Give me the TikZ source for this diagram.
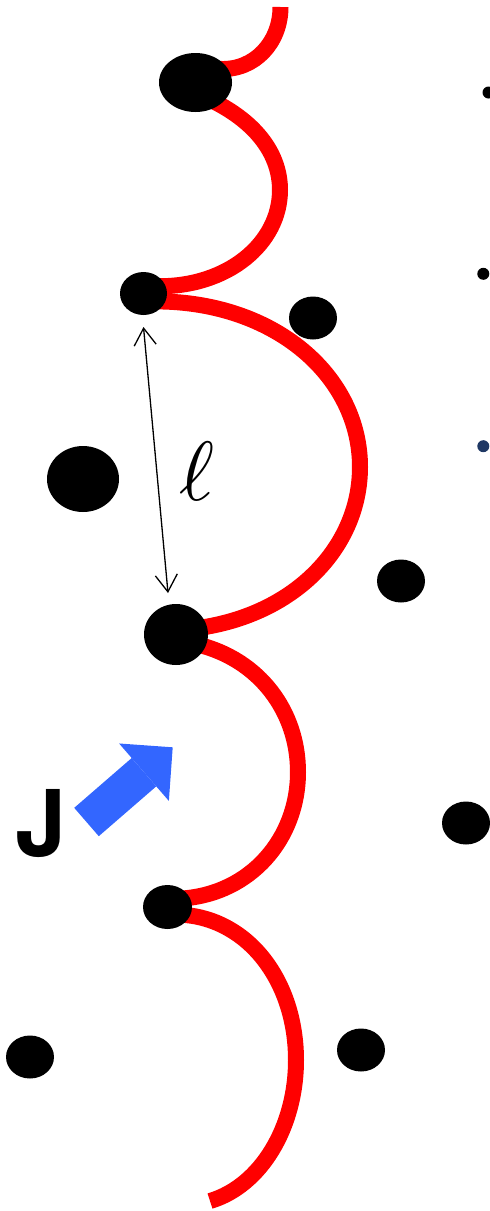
\documentclass[tikz,border=0pt]{standalone}
\usepackage{fontspec}
\usepackage{xcolor}
\usepackage{tikz}
\usetikzlibrary{arrows.meta, shapes.geometric, backgrounds}
\newfontfamily\jfont{TeX Gyre Heros}
\definecolor{ChainRed}{RGB}{255,0,0}
\definecolor{JBlue}{RGB}{51,102,255}
\definecolor{AtomNavy}{RGB}{31,56,100}

\begin{document}
\begin{tikzpicture}[
  x=1pt, y=-1pt,
  dot/.style={ellipse, fill=black, inner sep=0pt, outer sep=0pt,
              minimum width=48pt, minimum height=43pt},
  tinydot/.style={circle, fill=black, inner sep=0pt, minimum size=12pt},
  chain/.style={draw=ChainRed, line width=16pt},
  lenarrow/.style={{Straight Barb[length=17pt,width=22pt]}-{Straight Barb[length=17pt,width=22pt]},
                   line width=1.3pt},
  jarrow/.style={draw=JBlue, line width=37.5pt,
                 -{Triangle[length=38pt,width=76pt,line width=0pt]}}
]
\useasboundingbox (0,0) rectangle (490,1211);
\node[dot, minimum width=73pt, minimum height=59pt] (d1) at (195.5,82.5) {};
\node[dot, minimum width=47pt, minimum height=43pt] (d2) at (143.5,293.5) {};
\node[dot] (d3) at (313,318) {};
\node[dot, minimum width=72pt, minimum height=66pt] (d4) at (83,479) {};
\node[dot, minimum width=64pt, minimum height=61pt] (d5) at (176,634.5) {};
\node[dot] (d6) at (401,581) {};
\node[dot] (d7) at (466,823) {};
\node[dot, minimum width=49pt, minimum height=44pt] (d8) at (167.5,907) {};
\node[dot] (d9) at (30,1057) {};
\node[dot] (d10) at (361,1050) {};
\node[tinydot] (s1) at (488.5,92.5) {};
\node[tinydot] (s2) at (483.3,273.8) {};
\node[tinydot, fill=AtomNavy] (s3) at (483.3,446.2) {};
\coordinate (topend) at (280.5,7);
\coordinate (botend) at (210,1201);
\begin{pgfonlayer}{background}
\draw[chain, shorten >=-8pt] (topend) .. controls (280.5,42) and (255,70.5) .. (d1.22);
\draw[chain, shorten <=-8pt, shorten >=-8pt] (d1.-42)
  .. controls (257.7,123.3) and (280,155.4) .. (280,190)
  .. controls (280,243.5) and (227.6,287) .. (d2.18);
\draw[chain, shorten <=-8pt, shorten >=-8pt] (d2.-20)
  .. controls (275,302) and (360,376) .. (360,467)
  .. controls (360,546) and (296.3,614) .. (d5.14);
\draw[chain, shorten <=-8pt, shorten >=-8pt] (d5.-22)
  .. controls (259.5,659.6) and (298,711.6) .. (298,772)
  .. controls (298,838.4) and (251,893.7) .. (d8.22);
\draw[chain, shorten <=-8pt] (d8.-20)
  .. controls (249.8,919.2) and (296,982.9) .. (296,1060)
  .. controls (296,1127.6) and (260.4,1186.1) .. (botend);
\end{pgfonlayer}
\draw[lenarrow] ([yshift=-12pt]d2.south) -- ([shift={(-8pt,11pt)}]d5.north);
\node[scale=8.4, inner sep=0pt] (ell) at (196.5,471) {$\ell$};
\coordinate (jtail) at (86.5,822);
\coordinate (jtip) at (172.7,747.3);
\draw[jarrow] (jtail) -- (jtip);
\node[font=\jfont\bfseries\fontsize{92}{92}\selectfont, inner sep=0pt] (J) at (41,824) {J};
\end{tikzpicture}
\end{document}
